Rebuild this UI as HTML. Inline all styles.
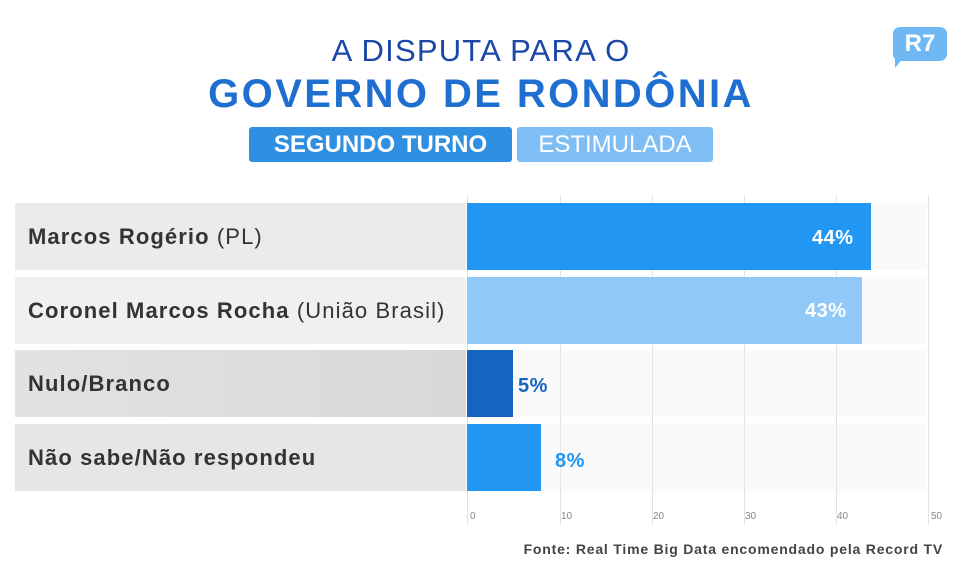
<!DOCTYPE html>
<html><head><meta charset="utf-8"><style>
body{margin:0;width:960px;height:576px;background:#fff;position:relative;overflow:hidden;font-family:"Liberation Sans",sans-serif}
.a{position:absolute}
.lbl{position:absolute;left:15px;width:451px;height:67px;color:#333;font-size:22px;font-weight:bold;line-height:67px;padding-left:13px;box-sizing:border-box;white-space:nowrap;letter-spacing:1.1px}
.lbl span{font-weight:normal}
.bg{position:absolute;left:467px;width:460px;height:67px;background:#fafafa}
.bar{position:absolute;left:467px;height:67px}
.g{position:absolute;top:195px;width:1px;height:330px;background:#e4e4e4}
.t{position:absolute;top:511px;font-size:10px;color:#888}
.v{position:absolute;font-size:20px;font-weight:bold;line-height:67px;letter-spacing:0.5px}
</style></head><body>
<div class="a" style="left:0;width:962px;top:33px;text-align:center;font-size:31px;color:#1a47a8;letter-spacing:1.2px">A DISPUTA PARA O</div>
<div class="a" style="left:0;width:962px;top:72px;text-align:center;font-size:40px;font-weight:bold;color:#1f6fd0;letter-spacing:2.4px">GOVERNO DE RONDÔNIA</div>
<div class="a" style="left:249px;top:127px;width:263px;height:35px;background:#2f8fe0;border-radius:3px;color:#fff;font-size:24px;font-weight:bold;line-height:35px;text-align:center">SEGUNDO TURNO</div>
<div class="a" style="left:517px;top:127px;width:196px;height:35px;background:#7fbdf5;border-radius:3px;color:#fff;font-size:24px;line-height:35px;text-align:center">ESTIMULADA</div>
<div class="a" style="left:893px;top:27px;width:54px;height:34px;background:#6fb8f3;border-radius:7px;color:#fff;font-size:24px;font-weight:bold;line-height:34px;text-align:center">R7</div>
<div class="a" style="left:895px;top:58px;width:0;height:0;border-left:8px solid #6fb8f3;border-bottom:10px solid transparent"></div>

<div class="bg" style="top:203px"></div><div class="bg" style="top:277px"></div><div class="bg" style="top:350px"></div><div class="bg" style="top:424px"></div>
<div class="g" style="left:467px"></div><div class="g" style="left:560px"></div><div class="g" style="left:652px"></div><div class="g" style="left:744px"></div><div class="g" style="left:836px"></div><div class="g" style="left:928px"></div>

<div class="lbl" style="top:203px;background:#ebebeb">Marcos Rogério <span>(PL)</span></div>
<div class="lbl" style="top:277px;background:#f0f0f0">Coronel Marcos Rocha <span>(União Brasil)</span></div>
<div class="lbl" style="top:350px;background:linear-gradient(90deg,#e2e2e2,#d8d8d8)">Nulo/Branco</div>
<div class="lbl" style="top:424px;background:#e6e6e6">Não sabe/Não respondeu</div>

<div class="bar" style="top:203px;width:404px;background:#2196f3"></div>
<div class="bar" style="top:277px;width:395px;background:#90c9f7"></div>
<div class="bar" style="top:350px;width:46px;background:#1565c0"></div>
<div class="bar" style="top:424px;width:74px;background:#2196f3"></div>
<div class="v" style="top:205px;left:812px;color:#fff">44%</div>
<div class="v" style="top:278px;left:805px;color:#fff">43%</div>
<div class="v" style="top:353px;left:518px;color:#1565c0">5%</div>
<div class="v" style="top:428px;left:555px;color:#2196f3">8%</div>

<div class="t" style="left:470px">0</div><div class="t" style="left:561px">10</div><div class="t" style="left:653px">20</div><div class="t" style="left:745px">30</div><div class="t" style="left:837px">40</div><div class="t" style="left:931px">50</div>
<div class="a" style="right:17px;top:541px;font-size:14px;font-weight:bold;color:#444;letter-spacing:0.8px">Fonte: Real Time Big Data encomendado pela Record TV</div>
</body></html>
